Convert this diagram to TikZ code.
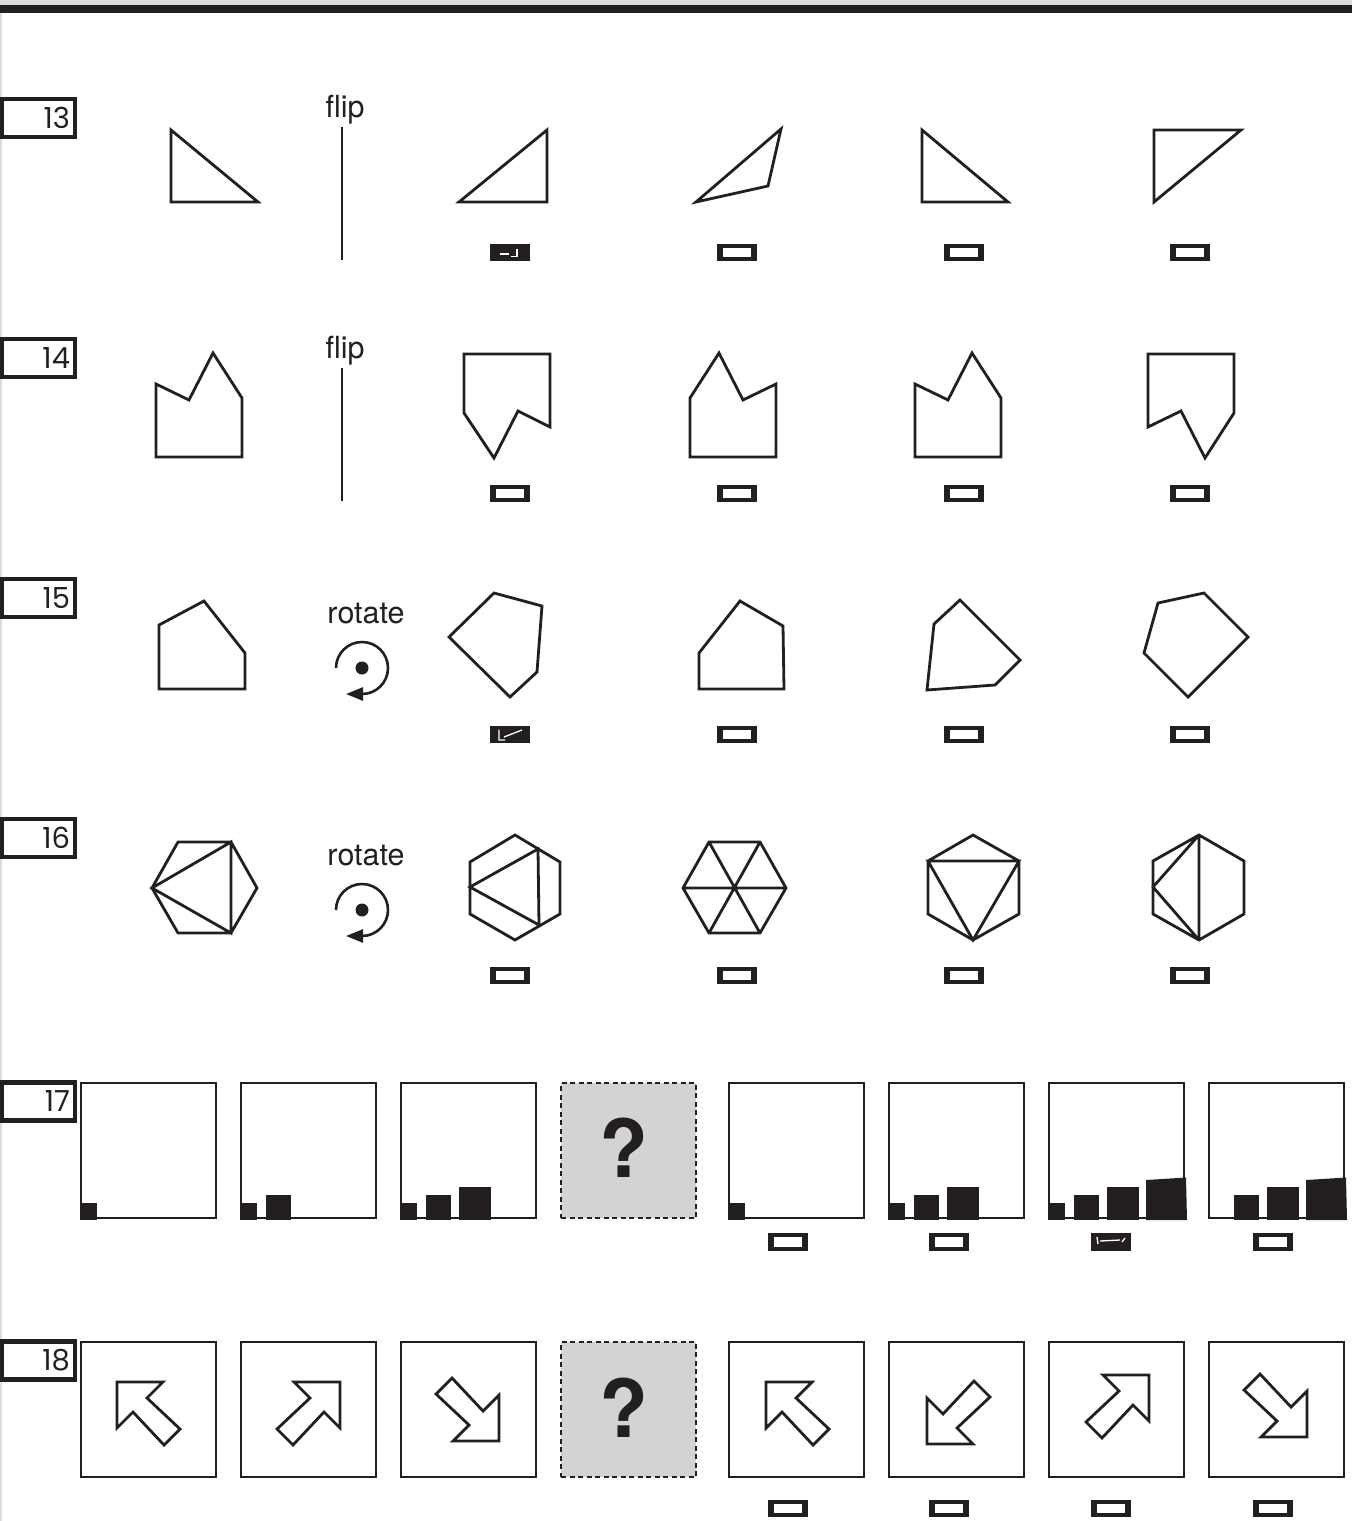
\documentclass[tikz,border=0pt]{standalone}
\usepackage{fontspec}
\setmainfont{TeX Gyre Heros}
\newfontfamily\numfont{Poppins}
\usetikzlibrary{arrows.meta}

\definecolor{ink}{HTML}{231F20}
\definecolor{qgray}{HTML}{D1D3D4}
\definecolor{edgegray}{HTML}{DCDDDE}

\begin{document}
\begin{tikzpicture}[
    x=1pt, y=-1pt,
    figline/.style={draw=ink, line width=2.8pt, line join=miter},
    axisline/.style={draw=ink, line width=2.6pt},
    numbox/.style={draw=ink, line width=4.2pt, text=ink, font=\numfont\fontsize{29}{29}\selectfont, text width=63pt, align=right, inner xsep=5pt, inner ysep=0pt, minimum height=38pt},
    cue/.style={font=\fontsize{30.5}{30.5}\selectfont, text=ink, anchor=base, inner sep=0pt},
    marked/.style={fill=ink, minimum width=40pt, minimum height=17.5pt, inner sep=0pt},
    ansbox/.style={marked, path picture={\fill[white] ([shift={(6pt,-4pt)}]path picture bounding box.north west) rectangle ([shift={(-6pt,4pt)}]path picture bounding box.south east);}},
    scribble/.style={draw=white, line width=1.3pt},
    panel/.style={draw=ink, line width=2.6pt, minimum width=135pt, minimum height=135pt, inner sep=0pt},
    qpanel/.style={panel, fill=qgray, dash pattern=on 5pt off 3.5pt},
    qmark/.style={font=\bfseries\fontsize{80}{80}\selectfont, text=ink, inner sep=0pt},
    turnsign/.pic={
        \fill[ink] (0,0) circle[radius=6.5];
        \draw[ink, line width=2.6pt, -{Triangle[length=17pt, width=13pt]}]
            (-26,0) arc[start angle=180, end angle=450, radius=26] -- (-16,26);
    },
    bentarrow/.pic={\draw[figline] (0,0) -- (46,0) -- (30,16) -- (63,47) -- (47,63) -- (16,30) -- (0,46) -- cycle;},
    barA/.pic={\fill[ink] (0,0) rectangle (17,-17);},
    barB/.pic={\fill[ink] (26,0) rectangle (51,-25);},
    barC/.pic={\fill[ink] (58.5,0) rectangle (91,-33);},
    barD/.pic={\fill[ink] (98,0) -- (98,-40) -- (138,-42.5) -- (139,0) -- cycle;}
]
\useasboundingbox (0,0) rectangle (1352,1521);

% page edge
\fill[edgegray] (0,0) rectangle (1352,4.5);
\fill[ink] (0,4.5) rectangle (1352,12.5);
\fill[edgegray] (0,12.5) rectangle (1.5,1521);

% question numbers
\node[numbox] (n13) at (38.5,118) {13};
\node[numbox] (n14) at (38.5,358) {14};
\node[numbox] (n15) at (38.5,598) {15};
\node[numbox] (n16) at (38.5,838) {16};
\node[numbox] (n17) at (38.5,1101.5) {17};
\node[numbox] (n18) at (38.5,1360.5) {18};

% 13
\draw[figline] (171,130) -- (171,202) -- (258,202) -- cycle;
\node[cue] (flipA) at (345,117) {flip};
\draw[axisline] (342,127) -- (342,260);
\draw[figline] (459,202) -- (547,130) -- (547,202) -- cycle;
\draw[figline] (696,202) -- (781,129) -- (768,186) -- cycle;
\draw[figline] (922,130) -- (922,202) -- (1008,202) -- cycle;
\draw[figline] (1154,130) -- (1241,130) -- (1154,202) -- cycle;
\node[marked] (b13-1) at (510,252.5) {};
\node[ansbox] (b13-2) at (736.5,252.5) {};
\node[ansbox] (b13-3) at (964,252.5) {};
\node[ansbox] (b13-4) at (1190,252.5) {};
\draw[scribble] (500,254) -- (509,254) (517,248.5) -- (517,256.5) -- (511,256.5);

% 14
\draw[figline] (156,384) -- (189,400) -- (213,353) -- (242,398) -- (242,457) -- (156,457) -- cycle;
\node[cue] (flipB) at (345,358) {flip};
\draw[axisline] (342,368) -- (342,501);
\draw[figline] (464,354) -- (550,354) -- (550,427) -- (518,411) -- (494,458) -- (464,413) -- cycle;
\draw[figline] (776,384) -- (743,400) -- (719,353) -- (690,398) -- (690,457) -- (776,457) -- cycle;
\draw[figline] (915,384) -- (948,400) -- (972,353) -- (1001,398) -- (1001,457) -- (915,457) -- cycle;
\draw[figline] (1148,427) -- (1181,411) -- (1205,458) -- (1234,413) -- (1234,354) -- (1148,354) -- cycle;
\node[ansbox] (b14-1) at (510,493.5) {};
\node[ansbox] (b14-2) at (736.5,493.5) {};
\node[ansbox] (b14-3) at (964,493.5) {};
\node[ansbox] (b14-4) at (1190,493.5) {};

% 15
\draw[figline] (159,625) -- (204,601) -- (245,653) -- (245,689) -- (159,689) -- cycle;
\node[cue] (turnA) at (366,623) {rotate};
\pic at (362,668) {turnsign};
\draw[figline] (449,637) -- (494,593) -- (542,606) -- (537,672) -- (510,697) -- cycle;
\draw[figline] (740,601) -- (783,626) -- (784,689) -- (699,689) -- (699,653) -- cycle;
\draw[figline] (960,600) -- (1020,660) -- (995,685) -- (927,690) -- (934,624) -- cycle;
\draw[figline] (1204,593) -- (1248,637) -- (1188,697) -- (1144,653) -- (1158,603) -- cycle;
\node[marked] (b15-1) at (510,734.5) {};
\node[ansbox] (b15-2) at (736.5,734.5) {};
\node[ansbox] (b15-3) at (964,734.5) {};
\node[ansbox] (b15-4) at (1190,734.5) {};
\draw[scribble] (499,729.5) -- (499,740) -- (505,740) (504,737) -- (522,730);

% 16
\draw[figline] (178,842) -- (231,842) -- (257,888) -- (231,933) -- (178,933) -- (152,888) -- cycle
    (152,888) -- (231,842) -- (231,933) -- cycle;
\node[cue] (turnB) at (366,865) {rotate};
\pic at (362,910) {turnsign};
\draw[figline] (515,835) -- (560,862) -- (560,914) -- (515,940) -- (470,914) -- (470,862) -- cycle
    (470,887) -- (538,849) -- (539,925) -- cycle;
\draw[figline] (709,842) -- (760,842) -- (786,888) -- (760,933) -- (709,933) -- (683,888) -- cycle
    (709,842) -- (760,933) (760,842) -- (709,933) (683,888) -- (786,888);
\draw[figline] (973,835) -- (1019,861) -- (1019,914) -- (973,940) -- (928,914) -- (928,861) -- cycle
    (928,861) -- (1019,861) -- (973,940) -- cycle;
\draw[figline] (1199,835) -- (1244,861) -- (1244,914) -- (1199,940) -- (1153,914) -- (1153,861) -- cycle
    (1199,835) -- (1199,940) (1199,835) -- (1153,887) -- (1199,940);
\node[ansbox] (b16-1) at (510,975.5) {};
\node[ansbox] (b16-2) at (736.5,975.5) {};
\node[ansbox] (b16-3) at (964,975.5) {};
\node[ansbox] (b16-4) at (1190,975.5) {};

% 17
\node[panel] (p17-1) at (148.5,1150.5) {};
\node[panel] (p17-2) at (308.5,1150.5) {};
\node[panel] (p17-3) at (468.5,1150.5) {};
\node[qpanel] (p17-4) at (628.5,1150.5) {};
\node[panel] (p17-5) at (796.5,1150.5) {};
\node[panel] (p17-6) at (956.5,1150.5) {};
\node[panel] (p17-7) at (1116.5,1150.5) {};
\node[panel] (p17-8) at (1276.5,1150.5) {};
\node[qmark] (q17) at (624,1148) {?};
\pic at (80,1220) {barA};
\pic at (240,1220) {barA}; \pic at (240,1220) {barB};
\pic at (400,1220) {barA}; \pic at (400,1220) {barB}; \pic at (400,1220) {barC};
\pic at (728,1220) {barA};
\pic at (888,1220) {barA}; \pic at (888,1220) {barB}; \pic at (888,1220) {barC};
\pic at (1048,1220) {barA}; \pic at (1048,1220) {barB}; \pic at (1048,1220) {barC}; \pic at (1048,1220) {barD};
\pic at (1208,1220) {barB}; \pic at (1208,1220) {barC}; \pic at (1208,1220) {barD};
\node[ansbox] (b17-1) at (787.5,1242) {};
\node[ansbox] (b17-2) at (949,1242) {};
\node[marked] (b17-3) at (1111,1242) {};
\node[ansbox] (b17-4) at (1273,1242) {};
\draw[scribble] (1097,1237) -- (1098,1244) (1100,1241) -- (1120,1240) (1122,1242) -- (1125,1238);

% 18
\node[panel] (p18-1) at (148.5,1409.5) {};
\node[panel] (p18-2) at (308.5,1409.5) {};
\node[panel] (p18-3) at (468.5,1409.5) {};
\node[qpanel] (p18-4) at (628.5,1409.5) {};
\node[panel] (p18-5) at (796.5,1409.5) {};
\node[panel] (p18-6) at (956.5,1409.5) {};
\node[panel] (p18-7) at (1116.5,1409.5) {};
\node[panel] (p18-8) at (1276.5,1409.5) {};
\node[qmark] (q18) at (624,1407.5) {?};
\pic at (117,1382) {bentarrow};
\pic[xscale=-1] at (340,1382) {bentarrow};
\pic[rotate=180] at (499,1441) {bentarrow};
\pic at (766,1382) {bentarrow};
\pic[yscale=-1] at (927,1444) {bentarrow};
\pic[xscale=-1] at (1149,1375) {bentarrow};
\pic[rotate=180] at (1307,1437) {bentarrow};
\node[ansbox] (b18-1) at (787.5,1508.5) {};
\node[ansbox] (b18-2) at (949,1508.5) {};
\node[ansbox] (b18-3) at (1111,1508.5) {};
\node[ansbox] (b18-4) at (1273,1508.5) {};

\end{tikzpicture}
\end{document}
